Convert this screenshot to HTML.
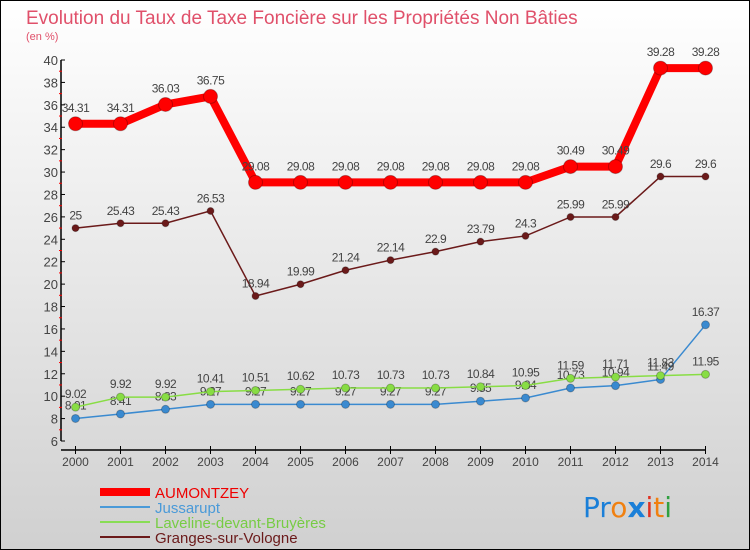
<!DOCTYPE html>
<html><head><meta charset="utf-8"><style>
body{margin:0}
#c{width:750px;height:550px;position:relative;font-family:"Liberation Sans",sans-serif;overflow:hidden}
</style></head><body>
<div id="c">
<svg width="750" height="550" id="svg">
<defs><linearGradient id="bg" x1="0" y1="0" x2="0" y2="1"><stop offset="0" stop-color="#ffffff"/><stop offset="1" stop-color="#d0d0d0"/></linearGradient></defs>
<rect x="0.5" y="0.5" width="749" height="549" fill="url(#bg)" stroke="#000"/>
<text x="26" y="24" font-size="19" fill="#e0506a">Evolution du Taux de Taxe Foncière sur les Propriétés Non Bâties</text>
<text x="26" y="40" font-size="11" fill="#e0506a">(en %)</text>
<g id="axes"></g><g id="series"></g>
<g>
<line x1="100" y1="492" x2="150" y2="492" stroke="#f00" stroke-width="8"/>
<text x="155" y="498" font-size="15" fill="#e00">AUMONTZEY</text>
<line x1="100" y1="507" x2="150" y2="507" stroke="#4a9ad8" stroke-width="2"/>
<text x="155" y="513" font-size="15" fill="#4a9ad8">Jussarupt</text>
<line x1="100" y1="522" x2="150" y2="522" stroke="#88dd55" stroke-width="2"/>
<text x="155" y="528" font-size="15" fill="#77cc44">Laveline-devant-Bruyères</text>
<line x1="100" y1="537" x2="150" y2="537" stroke="#6b1a1a" stroke-width="2"/>
<text x="155" y="543" font-size="15" fill="#6b1a1a">Granges-sur-Vologne</text>
</g>
<text x="583" y="517" font-size="28" font-family="DejaVu Sans"><tspan fill="#1a7fd8">Pr</tspan><tspan fill="#f08010">o</tspan><tspan fill="#1a7fd8" font-weight="bold">x</tspan><tspan fill="#e03020">i</tspan><tspan fill="#f08010">t</tspan><tspan fill="#30a040">i</tspan></text>
</svg>
</div>
<script>
const years=[2000,2001,2002,2003,2004,2005,2006,2007,2008,2009,2010,2011,2012,2013,2014];
const aumontzey=[34.31,34.31,36.03,36.75,29.08,29.08,29.08,29.08,29.08,29.08,29.08,30.49,30.49,39.28,39.28];
const jussarupt=[8.01,8.41,8.83,9.27,9.27,9.27,9.27,9.27,9.27,9.55,9.84,10.73,10.94,11.49,16.37];
const laveline=[9.02,9.92,9.92,10.41,10.51,10.62,10.73,10.73,10.73,10.84,10.95,11.59,11.71,11.83,11.95];
const granges=[25,25.43,25.43,26.53,18.94,19.99,21.24,22.14,22.9,23.79,24.3,25.99,25.99,29.6,29.6];
const yTicks=[6,8,10,12,14,16,18,20,22,24,26,28,30,32,34,36,38,40];
const NS='http://www.w3.org/2000/svg';
const X=i=>75.5+i*45, Y=v=>441-(v-6)*(381/34);
function mk(t,a,p){const e=document.createElementNS(NS,t);for(const k in a)e.setAttribute(k,a[k]);p.appendChild(e);return e;}
const ax=document.getElementById('axes'), sg=document.getElementById('series');
let l=mk('line',{x1:61,y1:Y(40),x2:61,y2:Y(6),stroke:'#000','stroke-width':1.5},ax);


l=mk('line',{x1:61,y1:450,x2:X(14),y2:450,stroke:'#000','stroke-width':1.5},ax);


yTicks.forEach(v=>{
  mk('line',{x1:61,y1:Y(v),x2:65,y2:Y(v),stroke:'#000'},ax);
  if(v<40) mk('line',{x1:59,y1:Y(v+1),x2:62,y2:Y(v+1),stroke:'#f00'},ax);
  const t=mk('text',{x:58,y:Y(v)+5,'font-size':13,fill:'#444','text-anchor':'end'},ax);t.textContent=v;
  
  
});
years.forEach((y,i)=>{
  mk('line',{x1:X(i),y1:446,x2:X(i),y2:454,stroke:'#000'},ax);
  const t=mk('text',{x:X(i),y:466,'font-size':12,fill:'#444','text-anchor':'middle'},ax);t.textContent=y;
  
  
});
function series(name,vals,color,w,r,lab){
  const g=mk('g',{},sg);
  
  
  mk('polyline',{points:vals.map((v,i)=>X(i)+','+Y(v)).join(' '),fill:'none',stroke:color,'stroke-width':w},g);
  vals.forEach((v,i)=>{
    const c=mk('circle',{cx:X(i),cy:Y(v),r:r,fill:color,stroke:'rgba(0,0,0,0.25)'},g);
    
    
    const t=mk('text',{x:X(i),y:Y(v)-r-5,'font-size':12,fill:'#444','text-anchor':'middle','letter-spacing':'-0.5'},g);t.textContent=v;
    
    
  });
}
series('granges',granges,'#6b1a1a',1.5,3.5);
series('jussarupt',jussarupt,'#3a8ad0',1.5,4);
series('laveline',laveline,'#88dd44',1.5,4);
series('aumontzey',aumontzey,'#f00',8,7);
</script>
</body></html>
